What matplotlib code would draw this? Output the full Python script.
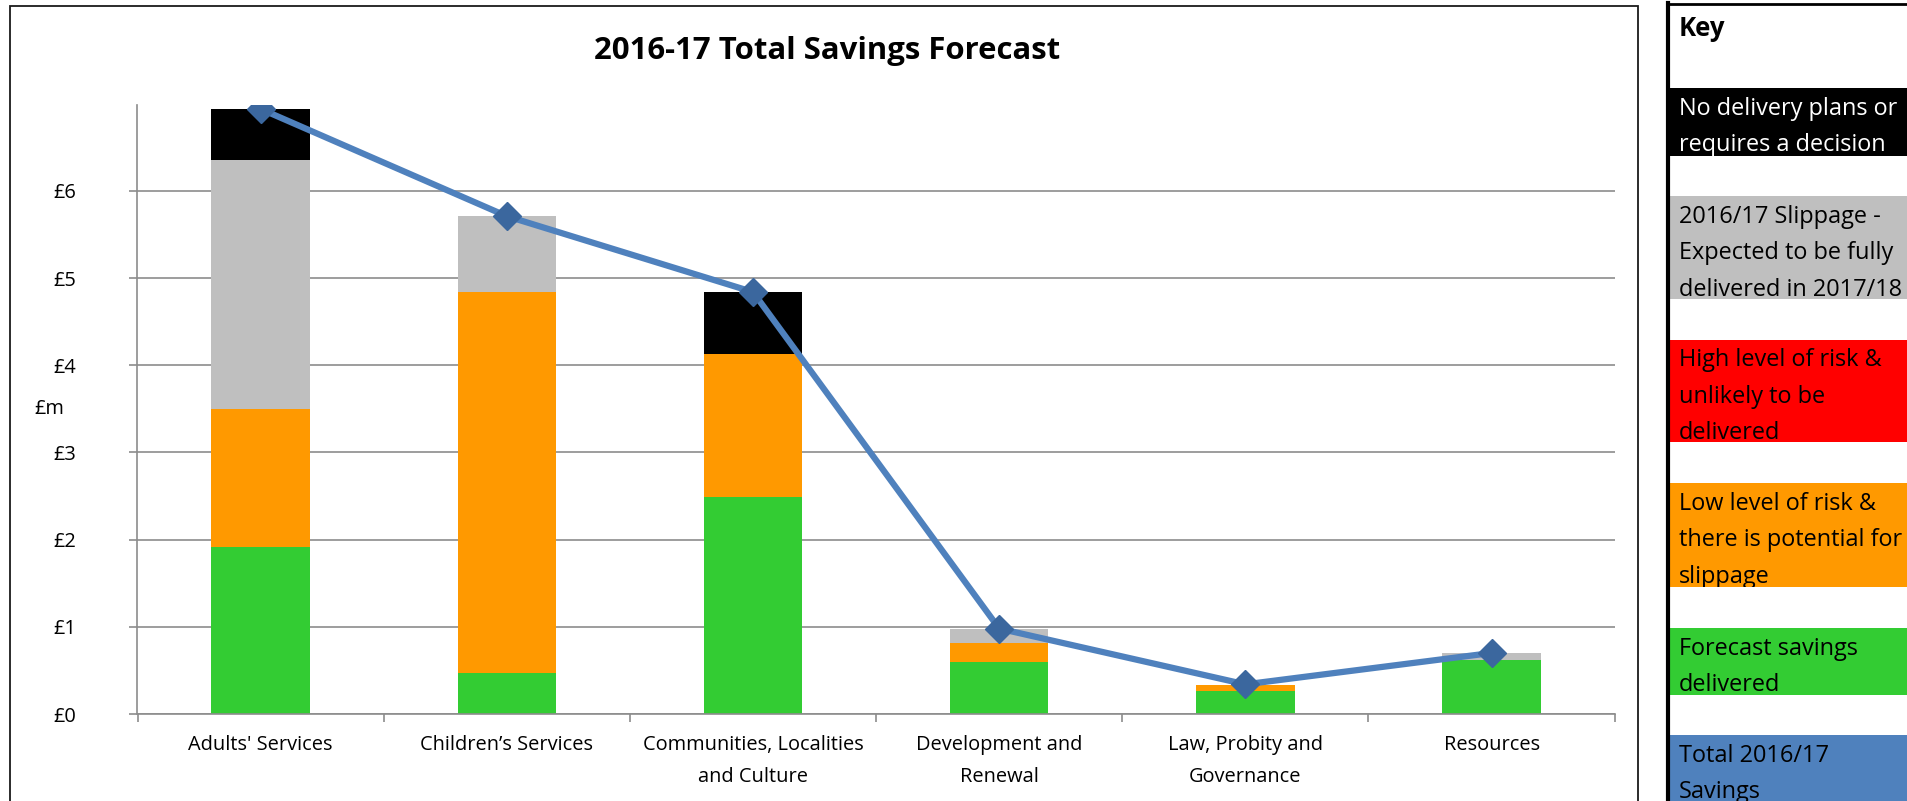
import matplotlib
matplotlib.use("Agg")
import matplotlib.pyplot as plt
from matplotlib.patches import Rectangle
import numpy as np

plt.rcParams['font.family'] = ['Open Sans', 'DejaVu Sans']

# ---------------- data ----------------
categories = ["Adults' Services", "Children\u2019s Services", "Communities, Localities\nand Culture",
              "Development and\nRenewal", "Law, Probity and\nGovernance", "Resources"]
forecast_delivered = [1.91, 0.47, 2.49, 0.60, 0.26, 0.62]
low_risk = [1.59, 4.37, 1.64, 0.215, 0.075, 0.00]
high_risk = [0.00, 0.00, 0.00, 0.00, 0.00, 0.00]
slippage = [2.85, 0.87, 0.00, 0.165, 0.00, 0.08]
no_plans = [0.59, 0.00, 0.71, 0.00, 0.00, 0.00]
total_savings = [6.94, 5.71, 4.84, 0.98, 0.34, 0.70]
y_ticks = [0, 1, 2, 3, 4, 5, 6]
y_tick_labels = ["£0", "£1", "£2", "£3", "£4", "£5", "£6"]

key_title = "Key"
key_entries = [
    (["No delivery plans or", "requires a decision"], "#000000", "#FFFFFF"),
    (["2016/17 Slippage -", "Expected to be fully", "delivered in 2017/18"], "#BFBFBF", "#000000"),
    (["High level of risk &", "unlikely to be", "delivered"], "#FF0000", "#000000"),
    (["Low level of risk &", "there is potential for", "slippage"], "#FF9900", "#000000"),
    (["Forecast savings", "delivered"], "#33CC33", "#000000"),
    (["Total 2016/17", "Savings"], "#4F81BD", "#000000"),
]
key_block_tops = [87.6, 195.9, 339.5, 483.0, 627.9, 735.0]
key_block_bottoms = [155.7, 299.3, 441.7, 586.5, 694.8, 810.0]

W, H = 1908, 801
fig = plt.figure(figsize=(W / 100, H / 100), dpi=100)

def fx(x):
    return x / W

def fy(y):
    return 1 - y / H

# chart border
fig.patches.append(Rectangle((fx(10), fy(900)), fx(1638) - fx(10), fy(6) - fy(900),
                             transform=fig.transFigure, fill=False, edgecolor='#1a1a1a',
                             linewidth=1.3, zorder=0))

ax = fig.add_axes([fx(137.5), fy(714), fx(1614.7) - fx(137.5), fy(104.6) - fy(714)])

x = np.arange(len(categories))
bw = 0.4
series = [(forecast_delivered, '#33CC33'), (low_risk, '#FF9900'), (high_risk, '#FF0000'),
          (slippage, '#BFBFBF'), (no_plans, '#000000')]
bottom = np.zeros(len(categories))
for vals, col in series:
    v = np.array(vals)
    ax.bar(x, v, bw, bottom=bottom, color=col, zorder=2, linewidth=0)
    bottom += v

ax.plot(x, total_savings, color='#4F81BD', lw=4.5, zorder=4,
        marker='D', markersize=14, markerfacecolor='#3B679E', markeredgecolor='#3B679E')

ax.set_xlim(-0.5, len(categories) - 0.5)
ax.set_ylim(0, 6.99)
ax.set_yticks(y_ticks)
ax.set_yticklabels(y_tick_labels, fontsize=14.4)
ax.yaxis.grid(True, color='#8C8C8C', lw=1.2, zorder=1)
ax.set_axisbelow(True)

ax.set_xticks(np.arange(-0.5, len(categories), 1.0))
ax.set_xticklabels([])
ax.set_xticks(x, minor=True)
ax.set_xticklabels(categories, minor=True, fontsize=14.4, linespacing=1.8)
ax.tick_params(axis='x', which='major', length=6, color='#8C8C8C', width=1.2)
ax.tick_params(axis='x', which='minor', length=0, pad=15)
ax.tick_params(axis='y', length=6, color='#8C8C8C', width=1.2, pad=38)

for s in ['top', 'right']:
    ax.spines[s].set_visible(False)
for s in ['left', 'bottom']:
    ax.spines[s].set_color('#8C8C8C')
    ax.spines[s].set_linewidth(1.2)

fig.text(fx(827), fy(51), "2016-17 Total Savings Forecast", fontsize=22.4, fontweight='bold',
         ha='center', va='center')

fig.text(fx(49), fy(409), "£m", fontsize=14.4, ha='center', va='center')

# ---------------- key ----------------
fig.patches.append(Rectangle((fx(1667), fy(810)), fx(1920) - fx(1667), fy(4) - fy(810),
                             transform=fig.transFigure, fill=True, facecolor='white',
                             edgecolor='none', zorder=1))
fig.text(fx(1679), fy(28), key_title, fontsize=18.5, fontweight='bold', ha='left', va='center')
for (lines, col, tcol), top, bot in zip(key_entries, key_block_tops, key_block_bottoms):
    r = Rectangle((fx(1668), fy(bot)), fx(1920) - fx(1668), fy(top) - fy(bot),
                  transform=fig.transFigure, facecolor=col, edgecolor='none', zorder=2)
    fig.patches.append(r)
    for i, ln in enumerate(lines):
        t = fig.text(fx(1679), fy(top + 21 + i * 36.3), ln, fontsize=16.9, color=tcol,
                     ha='left', va='center', zorder=3)
        t.set_clip_path(r)
# key borders
fig.lines.append(plt.Line2D([fx(1668.5), fx(1668.5)], [fy(3), fy(810)], transform=fig.transFigure,
                            color='black', lw=3, zorder=5))
fig.lines.append(plt.Line2D([fx(1667), fx(1910)], [fy(4), fy(4)], transform=fig.transFigure,
                            color='black', lw=2, zorder=5))

fig.savefig("out.png", dpi=100)
